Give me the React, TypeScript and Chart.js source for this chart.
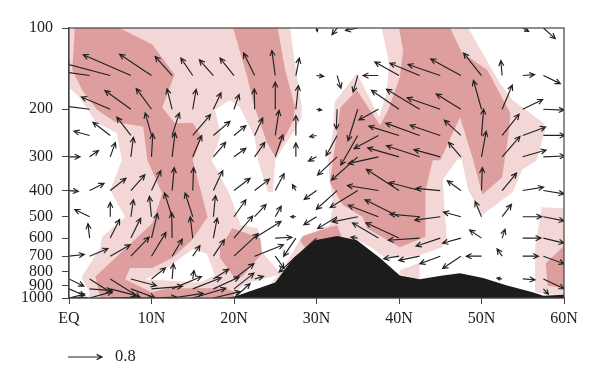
import React, { useEffect, useRef } from "react";
import { Chart, registerables } from "chart.js";

Chart.register(...registerables);

const _ = null;
const tickLats = [0, 10, 20, 30, 40, 50, 60];
const tickLevels = [100, 200, 300, 400, 500, 600, 700, 800, 900, 1000];
const legendValue = 0.8;

// grid of the vector field
const arrowLats = [0, 2.5, 5, 7.5, 10, 12.5, 15, 17.5, 20, 22.5, 25, 27.5, 30, 32.5, 35, 37.5, 40, 42.5, 45, 47.5, 50, 52.5, 55, 57.5, 60];
const arrowLevels = [100, 150, 200, 250, 300, 400, 500, 600, 700, 850, 925, 1000];

const u100 = [_, _, _, _, _, _, _, _, _, _, _, _, 0.02, -0.12, -0.29, _, _, _, _, _, _, _, 0.14, 0.28, _];
const w100 = [_, _, _, _, _, _, _, _, _, _, _, _, -0.08, -0.16, -0.06, _, _, _, _, _, _, _, -0.08, -0.25, _];
const u150 = [_, -0.62, -1.09, -1.12, -0.75, -0.4, -0.28, -0.33, -0.33, -0.26, -0.08, 0.08, 0.17, 0.09, -0.11, -0.36, -0.57, -0.7, -0.76, -0.71, -0.42, -0.03, 0.28, 0.4, _];
const w150 = [_, 0.09, 0.29, 0.49, 0.5, 0.45, 0.41, 0.37, 0.41, 0.53, 0.59, 0.41, -0.02, -0.3, -0.39, 0, 0.32, 0.29, 0.26, 0.39, 0.53, 0.35, 0.02, -0.19, _];
const u200 = [_, -0.62, -0.68, -0.61, -0.36, -0.12, 0.08, 0.18, 0.12, -0.01, 0, 0.06, 0.12, -0.02, -0.23, -0.46, -0.65, -0.78, -0.78, -0.58, -0.19, 0.24, 0.47, 0.49, _];
const w200 = [_, 0.08, 0.29, 0.44, 0.49, 0.48, 0.47, 0.39, 0.35, 0.48, 0.64, 0.56, -0.02, -0.47, -0.74, -0.25, 0.45, 0.47, 0.27, 0.36, 0.68, 0.57, 0.23, -0.02, _];
const u250 = [_, -0.37, -0.41, -0.33, -0.15, 0.17, 0.42, 0.39, 0.28, 0.19, 0.09, 0, -0.16, -0.26, -0.4, -0.57, -0.71, -0.8, -0.71, -0.39, 0.05, 0.4, 0.54, 0.51, _];
const w250 = [_, 0.1, 0.31, 0.43, 0.53, 0.53, 0.49, 0.33, 0.23, 0.41, 0.59, 0.47, -0.03, -0.48, -0.7, -0.31, 0.22, 0.29, 0.24, 0.36, 0.62, 0.5, 0.2, 0, _];
const u300 = [0.26, 0.21, 0.12, 0.06, 0.03, 0.07, 0.21, 0.29, 0.28, 0.24, 0.18, 0, -0.19, -0.46, -0.62, -0.71, -0.74, -0.78, -0.62, -0.29, 0.11, 0.42, 0.55, 0.51, _];
const w300 = [0, 0.15, 0.34, 0.46, 0.55, 0.57, 0.5, 0.34, 0.2, 0.34, 0.52, 0.33, -0.1, -0.43, -0.55, -0.16, 0.21, 0.26, 0.17, 0.34, 0.6, 0.48, 0.16, 0.02, _];
const u400 = [0.22, 0.34, 0.37, 0.33, 0.22, 0.05, 0.02, 0.22, 0.38, 0.35, 0.21, -0.08, -0.29, -0.49, -0.65, -0.73, -0.77, -0.72, -0.57, -0.32, 0.02, 0.34, 0.49, 0.49, _];
const w400 = [-0.02, 0.17, 0.29, 0.37, 0.47, 0.54, 0.54, 0.47, 0.29, 0.27, 0.4, 0.14, -0.21, -0.44, -0.4, 0.12, 0.5, 0.19, 0.05, 0.23, 0.54, 0.41, 0.08, -0.08, _];
const u500 = [_, -0.35, 0, 0.06, -0.05, -0.18, -0.18, 0.05, 0.28, 0.27, 0.14, -0.12, -0.3, -0.46, -0.6, -0.71, -0.8, -0.7, -0.6, -0.41, -0.15, 0.22, 0.45, 0.49, _];
const w500 = [_, 0.17, 0.34, 0.4, 0.48, 0.56, 0.56, 0.5, 0.4, 0.29, 0.25, 0, -0.19, -0.28, -0.12, 0.27, 0.4, 0.06, -0.08, 0.11, 0.36, 0.29, 0, -0.1, _];
const u600 = [_, -0.04, 0.22, 0.23, 0.14, -0.01, -0.06, 0.09, 0.44, 0.62, 0.39, -0.29, -0.88, _, -0.16, -0.61, -0.78, -0.74, -0.57, -0.43, -0.28, 0.07, 0.43, 0.49, _];
const w600 = [_, 0.34, 0.44, 0.47, 0.58, 0.6, 0.5, 0.47, 0.52, 0.39, 0.02, -0.43, -0.8, _, 0.02, 0.36, 0.36, -0.05, -0.19, -0.12, 0.19, 0.21, 0, -0.12, _];
const u700 = [0.36, 0.43, 0.47, 0.43, 0.34, 0.24, 0.17, 0.26, 0.57, 0.68, 0.21, _, _, _, _, _, -0.36, -0.49, -0.48, -0.43, -0.36, -0.12, 0.37, 0.49, _];
const w700 = [0.04, 0.18, 0.27, 0.45, 0.56, 0.4, 0.25, 0.39, 0.53, 0.27, -0.29, _, _, _, _, _, -0.06, -0.1, -0.18, -0.29, 0, 0.17, 0, -0.18, _];
const u850 = [0.35, 0.52, 0.7, 0.6, 0.33, 0.03, 0.03, 0.36, 0.47, 0.21, _, _, _, _, _, _, _, _, _, _, _, -0.12, 0.29, 0.49, _];
const w850 = [-0.17, -0.33, -0.44, -0.16, 0.26, 0.36, 0.2, 0.23, 0.36, 0.06, _, _, _, _, _, _, _, _, _, _, _, 0.02, -0.02, -0.23, _];
const u925 = [0.37, 0.52, 0.62, 0.57, 0.73, 0.69, 0.67, 0.61, 0.47, _, _, _, _, _, _, _, _, _, _, _, _, _, _, 0.12, _];
const w925 = [-0.16, -0.04, -0.16, -0.21, 0.06, 0.29, 0.26, 0.28, 0.37, _, _, _, _, _, _, _, _, _, _, _, _, _, _, -0.13, _];
const u1000 = [0.37, 0.54, 0.7, 0.53, 0.59, 0.73, 0.78, 0.63, 0.38, _, _, _, _, _, _, _, _, _, _, _, _, _, _, _, _];
const w1000 = [0.09, 0.15, 0.02, 0, 0.02, 0.11, 0.23, 0.15, 0.34, _, _, _, _, _, _, _, _, _, _, _, _, _, _, _, _];

const uRows = [u100, u150, u200, u250, u300, u400, u500, u600, u700, u850, u925, u1000];
const wRows = [w100, w150, w200, w250, w300, w400, w500, w600, w700, w850, w925, w1000];

// shaded regions and terrain, as [latitude, pressure]
const lightMain = [[37.9,100],[48.4,100],[52.2,160],[53.8,185],[57.5,225],[57.7,239],[56.7,309],[54.9,336],[53.8,405],[50.1,493],[48.4,399],[47.6,309],[47.4,304],[47,309],[45.3,366],[45.8,611],[45.2,648],[42.5,694],[40.1,711],[38.1,702],[36.8,654],[35,611],[32.8,740],[28,1000],[2.3,1000],[2.5,952],[1.5,840],[3.8,648],[4,593],[6.8,501],[5,399],[6.4,309],[5.8,245],[3.2,223],[2.3,201],[1.3,181],[0,166],[0,100],[26.8,100],[27.2,124],[28.2,196],[28.2,214],[27.4,239],[25.9,278],[25,309],[24.7,405],[24.1,405],[22.9,309],[22.5,254],[20.7,196],[19.5,185],[17.7,201],[18.4,249],[17.3,309],[19.5,415],[20.8,537],[22.9,552],[23.2,665],[25.6,809],[28.2,596],[31.6,537],[32,445],[31.6,366],[31.4,309],[32,239],[32.2,188],[34.9,147],[37.6,214],[38.5,173],[38.8,135]];
const lightEdge = [[57.3,461],[60,465],[60,985],[56.5,952],[56.5,648]];
const lightPatch = [[40.1,789],[42.5,740],[42.5,852],[40.1,820]];
const clearHole = [[9.2,852],[11,809],[12.8,737],[15,660],[16.7,684],[17.7,826],[15.9,877]];
const clearSlope = [[19.8,990],[21.3,885],[24.7,833],[25.4,820],[24,920],[20.1,995]];
const darkWest = [[0.7,100],[6.1,100],[10.1,115],[12.8,149],[11.3,197],[12.8,225],[15,225],[16.1,254],[15,309],[16.8,501],[14.9,611],[12.5,711],[10.1,775],[7.4,775],[6.8,852],[10,952],[12.1,920],[15,920],[18.9,920],[20.2,952],[19.8,1000],[3.8,1000],[3.2,833],[10.1,529],[11.3,410],[9.5,309],[9,232],[5.6,223],[3.4,201],[1.6,170],[0.4,143]];
const darkBlob = [[18.3,654],[19.8,552],[23.2,600],[23.4,684],[21,833],[20.1,843],[18.3,711]];
const darkUpper = [[19.9,100],[25.3,100],[26.2,143],[27.4,196],[27.2,219],[25,300],[24,266],[22.5,196],[21.6,152]];
const darkEast = [[40,100],[46.2,100],[47.6,123],[50.7,143],[53.5,207],[53.3,245],[52.8,309],[52.5,357],[50.1,415],[49,309],[47.4,214],[45,309],[44.1,309],[43.2,399],[43.2,593],[40.1,648],[36.1,552],[35.6,501],[33.2,452],[31.6,373],[32,309],[32.9,197],[34.9,170],[37.7,229],[38.7,201],[40.1,152],[40.5,121]];
const darkRidge = [[28,611],[28.4,588],[32.5,537],[33.1,600],[29,680]];
const darkEdge = [[57.8,744],[60,641],[60,920],[58,898]];
const terrain = [[19,1000],[20.2,985],[25,877],[27.2,711],[29.8,611],[32.5,589],[34.9,611],[37.7,711],[40.1,826],[42.5,852],[45.3,826],[47.4,809],[50.2,843],[53.1,898],[56.2,952],[57.5,980],[60,972],[60,1000]];

const LIGHT = "#f3d7d7";
const DARK = "#de9e9e";
const INK = "#222222";
const AXIS = "#444444";
const FONT = "'Liberation Serif', serif";

const poly = (pts: number[][], color: string, order: number) => ({
  data: pts.map(([x, y]) => ({ x, y })),
  showLine: true,
  fill: "shape",
  backgroundColor: color,
  borderColor: color,
  borderWidth: 0,
  pointRadius: 0,
  tension: 0,
  order,
});

const LEGEND_PX = 34; // drawn length of the reference vector
const unitPx = LEGEND_PX / legendValue;

function drawArrow(ctx: CanvasRenderingContext2D, x0: number, y0: number, x1: number, y1: number) {
  const a = Math.atan2(y1 - y0, x1 - x0);
  const len = Math.min(6, Math.hypot(x1 - x0, y1 - y0) * 0.7);
  ctx.beginPath();
  ctx.moveTo(x0, y0);
  ctx.lineTo(x1, y1);
  ctx.moveTo(x1 - len * Math.cos(a - 0.45), y1 - len * Math.sin(a - 0.45));
  ctx.lineTo(x1, y1);
  ctx.lineTo(x1 - len * Math.cos(a + 0.45), y1 - len * Math.sin(a + 0.45));
  ctx.stroke();
}

const vectorPlugin = {
  id: "vectors",
  afterDatasetDraw(chart: any, args: any) {
    if (args.index !== 1) return;
    const { ctx, chartArea: a, scales } = chart;
    ctx.save();
    ctx.beginPath();
    ctx.rect(a.left, a.top, a.right - a.left, a.bottom - a.top);
    ctx.clip();
    ctx.strokeStyle = INK;
    ctx.lineWidth = 1.15;
    arrowLevels.forEach((lev, r) => {
      arrowLats.forEach((lat, c) => {
        const u = uRows[r][c];
        const w = wRows[r][c];
        if (u === null || w === null) return;
        const x = scales.x.getPixelForValue(lat);
        const y = scales.y.getPixelForValue(lev);
        drawArrow(ctx, x, y, x + u * unitPx, y - w * unitPx);
      });
    });
    ctx.restore();
  },
  afterDraw(chart: any) {
    const { ctx, chartArea: a } = chart;
    ctx.save();
    ctx.strokeStyle = AXIS;
    ctx.lineWidth = 1.2;
    ctx.strokeRect(a.left, a.top, a.right - a.left, a.bottom - a.top);
    ctx.strokeStyle = INK;
    ctx.lineWidth = 1.15;
    drawArrow(ctx, a.left - 1, 357, a.left - 1 + LEGEND_PX, 357);
    ctx.fillStyle = INK;
    ctx.font = `16.5px ${FONT}`;
    ctx.textBaseline = "middle";
    ctx.fillText(String(legendValue), 115, 357);
    ctx.restore();
  },
};

export default function App() {
  const ref = useRef<HTMLCanvasElement>(null);
  useEffect(() => {
    const chart = new Chart(ref.current as HTMLCanvasElement, {
      type: "scatter",
      data: {
        datasets: [
          poly(terrain, "#1c1c1c", 0),
          poly(darkWest, DARK, 1),
          poly(darkBlob, DARK, 1),
          poly(darkUpper, DARK, 1),
          poly(darkEast, DARK, 1),
          poly(darkRidge, DARK, 1),
          poly(darkEdge, DARK, 1),
          poly(clearHole, "#ffffff", 2),
          poly(clearSlope, "#ffffff", 2),
          poly(lightMain, LIGHT, 3),
          poly(lightEdge, LIGHT, 3),
          poly(lightPatch, LIGHT, 3),
        ] as any,
      },
      options: {
        responsive: false,
        animation: false,
        events: [],
        layout: { padding: { top: 28, right: 36, left: 0, bottom: 0 } },
        plugins: { legend: { display: false }, tooltip: { enabled: false } },
        scales: {
          x: {
            type: "linear",
            min: 0,
            max: 60,
            afterBuildTicks: (s: any) => { s.ticks = tickLats.map((value) => ({ value })); },
            afterFit: (s: any) => { s.height = 85; },
            grid: { drawOnChartArea: false, tickLength: 6, color: AXIS },
            border: { color: AXIS, width: 1.2 },
            ticks: {
              padding: 5,
              maxRotation: 0,
              autoSkip: false,
              color: INK,
              font: { family: FONT, size: 16 },
              callback: (v: any) => (v === 0 ? "EQ" : `${v}N`),
            },
          },
          y: {
            type: "logarithmic",
            reverse: true,
            min: 100,
            max: 1000,
            afterBuildTicks: (s: any) => { s.ticks = tickLevels.map((value) => ({ value })); },
            afterFit: (s: any) => { s.width = 69; },
            grid: { drawOnChartArea: false, tickLength: 7, color: AXIS },
            border: { color: AXIS, width: 1.2 },
            ticks: {
              padding: 9,
              autoSkip: false,
              color: INK,
              font: { family: FONT, size: 16 },
              callback: (v: any) => String(v),
            },
          },
        },
      } as any,
      plugins: [vectorPlugin],
    });
    return () => chart.destroy();
  }, []);
  return <canvas ref={ref} width={600} height={383} style={{ position: "absolute", left: 0, top: 0, display: "block" }} />;
}
